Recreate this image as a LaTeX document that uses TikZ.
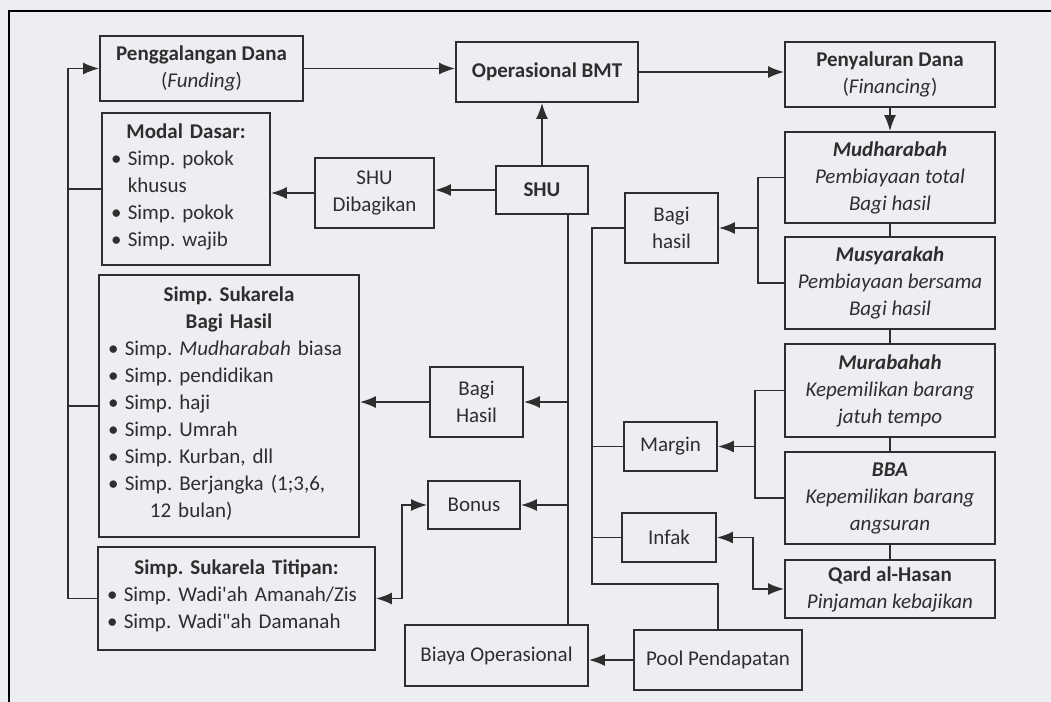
\documentclass[tikz,border=0pt]{standalone}
\usepackage{fontspec}
\setmainfont{Carlito}
\usetikzlibrary{arrows.meta}
\definecolor{kertas}{HTML}{ECEEF2}
\definecolor{tinta}{HTML}{2E2E2E}
\newcommand{\judul}[1]{\noindent\hskip0pt plus1fill\textbf{#1}\hskip0pt plus1fill\null}
\newenvironment{butiran}{\begin{tabular}[t]{@{}l@{\hspace{0.3em}}l@{}}}{\end{tabular}}
\tikzset{
  kotak/.style={draw, align=center, inner sep=3pt},
  daftar/.style={draw, align=left, inner xsep=4.5pt, inner ysep=3pt},
}
\begin{document}
\begin{tikzpicture}[x=0.5pt, y=-0.5pt, tinta, line width=0.9pt,
  >={Latex[length=8pt,width=6pt]}, font=\fontsize{10.5}{13.5}\selectfont\frenchspacing]
  \fill[kertas] (0,0) rectangle (1051,702);
  \useasboundingbox (0,0) rectangle (1051,702);
  \draw[black, line width=1.3pt] (1051,11) -- (9,11) -- (9,702);

  % kolom kiri
  \node[kotak, minimum width=101.5pt, minimum height=32.5pt] (dana) at (201.5,68.5)
    {\textbf{Penggalangan Dana}\\(\textit{Funding})};
  \node[daftar, text width=75pt, minimum height=76pt] (modal) at (186,189)
    {\judul{Modal Dasar:}\\
     \begin{butiran}
       \textbullet & Simp. pokok\\ & khusus\\ \textbullet & Simp. pokok\\ \textbullet & Simp. wajib
     \end{butiran}};
  \node[daftar, text width=121pt, minimum height=131pt] (sukarela) at (229,406)
    {\judul{Simp. Sukarela}\\\judul{Bagi Hasil}\\
     \begin{butiran}
       \textbullet & Simp. \textit{Mudharabah} biasa\\ \textbullet & Simp. pendidikan\\
       \textbullet & Simp. haji\\ \textbullet & Simp. Umrah\\ \textbullet & Simp. Kurban, dll\\
       \textbullet & Simp. Berjangka (1;3,6,\\ & \hspace*{1.2em}12 bulan)
     \end{butiran}};
  \node[daftar, text width=129.5pt, minimum height=51.5pt] (titipan) at (236.5,598.5)
    {\judul{Simp. Sukarela Titipan:}\\
     \begin{butiran}
       \textbullet & Simp. Wadi\textquotesingle ah Amanah/Zis\\
       \textbullet & Simp. Wadi\textquotedbl ah Damanah
     \end{butiran}};

  % kolom tengah
  \node[kotak, minimum width=91pt, minimum height=30pt] (ops) at (547,72) {\textbf{Operasional BMT}};
  \node[kotak, minimum width=46pt, minimum height=24pt] (shu) at (542,190) {\textbf{SHU}};
  \node[kotak, minimum width=59.5pt, minimum height=35pt] (shubagi) at (374.5,193) {SHU\\Dibagikan};
  \node[kotak, minimum width=46.5pt, minimum height=35pt] (bhkanan) at (671.5,228) {Bagi\\hasil};
  \node[kotak, minimum width=46.5pt, minimum height=35pt] (bhtengah) at (476.5,402) {Bagi\\Hasil};
  \node[kotak, minimum width=46.5pt, minimum height=24.5pt] (margin) at (670.5,446.5) {Margin};
  \node[kotak, minimum width=46pt, minimum height=24pt] (bonus) at (474,505) {Bonus};
  \node[kotak, minimum width=47pt, minimum height=24.5pt] (infak) at (669,537.5) {Infak};
  \node[kotak, minimum width=91.5pt, minimum height=30.5pt] (biaya) at (496.5,655.5) {Biaya Operasional};
  \node[kotak, minimum width=84pt, minimum height=30pt] (pool) at (718,660) {Pool Pendapatan};

  % kolom kanan
  \node[kotak, minimum width=105pt, minimum height=32.5pt] (salur) at (890,74.5)
    {\textbf{Penyaluran Dana}\\(\textit{Financing})};
  \node[kotak, minimum width=105pt, minimum height=45.5pt] (mudh) at (890,177.5)
    {\textbf{\textit{Mudharabah}}\\\textit{Pembiayaan total}\\\textit{Bagi hasil}};
  \node[kotak, minimum width=105pt, minimum height=46pt] (musy) at (890,283)
    {\textbf{\textit{Musyarakah}}\\\textit{Pembiayaan bersama}\\\textit{Bagi hasil}};
  \node[kotak, minimum width=105pt, minimum height=46.5pt] (murab) at (890,390.5)
    {\textbf{\textit{Murabahah}}\\\textit{Kepemilikan barang}\\\textit{jatuh tempo}};
  \node[kotak, minimum width=105pt, minimum height=46pt] (bba) at (890,498)
    {\textbf{\textit{BBA}}\\\textit{Kepemilikan barang}\\\textit{angsuran}};
  \node[kotak, minimum width=105pt, minimum height=29pt] (qard) at (890,589)
    {\textbf{Qard al-Hasan}\\\textit{Pinjaman kebajikan}};

  \coordinate (bus) at (68,68.5);
  \coordinate (shujalur) at (568,0);
  \coordinate (pojok) at (592,584);
  \coordinate (kurung1) at (758,228);
  \coordinate (kurung2) at (755,446.5);

  % aliran dana
  \draw[->] (dana.east) -- (dana.east -| ops.west);
  \draw[->] (ops.east) -- (ops.east -| salur.west);
  \draw[->] (salur) -- (mudh);
  \draw (mudh) -- (musy);
  \draw (musy) -- (murab);
  \draw (murab) -- (bba);
  \draw (bba) -- (qard);
  \draw[->] (titipan.west) -| (bus) -- (dana.west);
  \draw (modal.west) -- (modal.west -| bus);
  \draw (sukarela.west) -- (sukarela.west -| bus);

  % pembagian SHU
  \draw[->] (shu) -- (shu |- ops.south);
  \draw[->] (shu) -- (shu -| shubagi.east);
  \draw[->] (shubagi) -- (shubagi -| modal.east);
  \draw (shu.south -| shujalur) -- (biaya.north -| shujalur);
  \draw[->] (bhtengah.east -| shujalur) -- (bhtengah.east);
  \draw[->] (bonus.east -| shujalur) -- (bonus.east);
  \draw[->] (bhtengah) -- (bhtengah -| sukarela.east);
  \draw[<->] (bonus.west) -- ++(-25,0) |- (titipan.east);

  % pendapatan
  \draw (mudh.west) -| (kurung1) |- (musy.west);
  \draw[->] (kurung1) -- (kurung1 -| bhkanan.east);
  \draw (murab.west) -| (kurung2) |- (bba.west);
  \draw[->] (kurung2) -- (kurung2 -| margin.east);
  \draw[<->] (infak.east) -- ++(36,0) |- (qard.west);
  \draw (bhkanan.west) -| (pojok) -| (pool.north);
  \draw (margin.west) -- (margin.west -| pojok);
  \draw (infak.west) -- (infak.west -| pojok);
  \draw[->] (pool) -- (pool -| biaya.east);
\end{tikzpicture}
\end{document}
